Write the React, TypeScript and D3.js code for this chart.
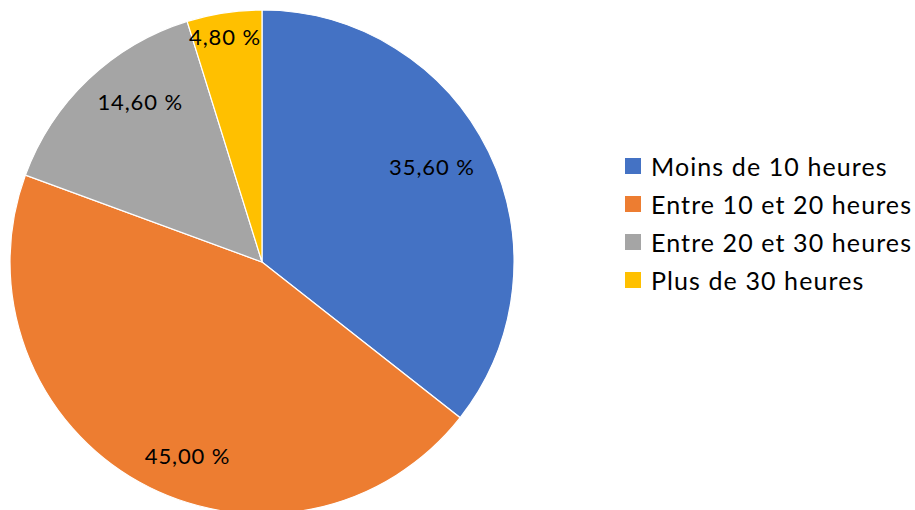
import React from "react";
import * as d3 from "d3";

const categories = ["Moins de 10 heures", "Entre 10 et 20 heures", "Entre 20 et 30 heures", "Plus de 30 heures"];
const values = [35.6, 45.0, 14.6, 4.8];
const labels = ["35,60 %", "45,00 %", "14,60 %", "4,80 %"];

const COLORS = ["#4472C4", "#ED7D31", "#A5A5A5", "#FFC000"];
const LABEL_NUDGE: [number, number][] = [[-10, -8], [23, 19], [16, -16], [-7, -28]];

export default function App() {
  const W = 915, H = 510;
  const cx = 262, cy = 262, R = 252;
  const pie = d3.pie<number>().sort(null).value((d) => d);
  const arcs = pie(values);
  const arc = d3.arc<d3.PieArcDatum<number>>().innerRadius(0).outerRadius(R);
  const labelArc = d3.arc<d3.PieArcDatum<number>>().innerRadius(200).outerRadius(200);
  const legendY = d3.scaleBand<number>().domain(d3.range(categories.length)).range([147, 299]);
  return (
    <svg width={W} height={H} style={{ position: "absolute", left: 0, top: 0, background: "#fff" }}
      fontFamily="Lato, 'Open Sans', sans-serif">
      <g transform={`translate(${cx},${cy})`}>
        {arcs.map((a, i) => (
          <path key={i} d={arc(a) || ""} fill={COLORS[i]} stroke="#fff" strokeWidth={1.2} />
        ))}
        {arcs.map((a, i) => {
          const [x, y] = labelArc.centroid(a);
          return (
            <text key={i} x={x + LABEL_NUDGE[i][0]} y={y + LABEL_NUDGE[i][1]} textAnchor="middle"
              dominantBaseline="central" fontSize={22} letterSpacing={0.9} fill="#000">{labels[i]}</text>
          );
        })}
      </g>
      {categories.map((c, i) => {
        const y = (legendY(i) as number) + legendY.bandwidth() / 2;
        return (
          <g key={c}>
            <rect x={625} y={y - 8} width={16} height={16} fill={COLORS[i]} />
            <text x={651} y={y} dominantBaseline="central" fontSize={25} letterSpacing={1.1} fill="#000">{c}</text>
          </g>
        );
      })}
    </svg>
  );
}
